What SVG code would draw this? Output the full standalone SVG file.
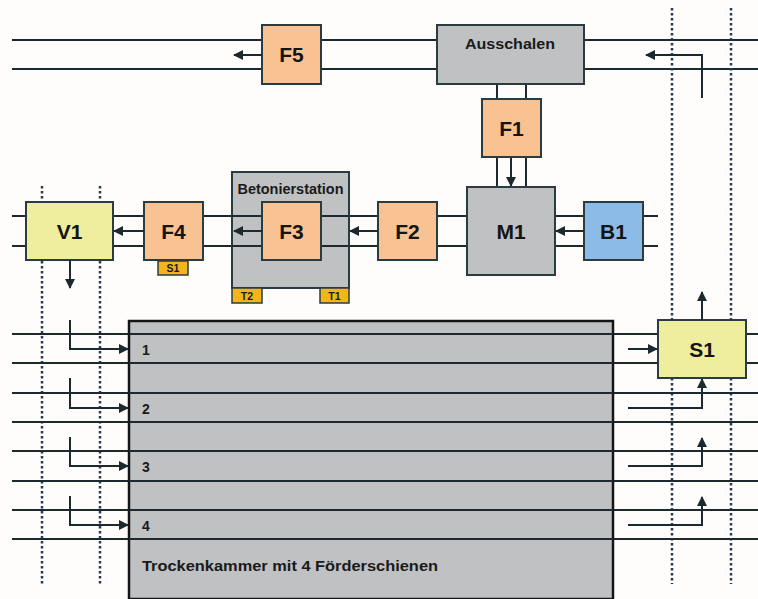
<svg xmlns="http://www.w3.org/2000/svg" width="758" height="599" viewBox="0 0 758 599">
<defs>
<marker id="ah" viewBox="0 0 10 10" refX="9" refY="5" markerWidth="5" markerHeight="5" orient="auto" markerUnits="strokeWidth"><path d="M0,0 L10,5 L0,10 z" fill="#1c2a30"/></marker>
</defs>
<style>
.rail{stroke:#1c2a30;stroke-width:2;fill:none}
.arr{stroke:#1c2a30;stroke-width:2;fill:none;marker-end:url(#ah)}
.dot{stroke:#253a55;stroke-width:2.5;stroke-dasharray:2.5 2.5;fill:none}
.box{stroke:#2a3c40;stroke-width:2}
.peach{fill:#f8c293}
.gray{fill:#bfc1c2}
.yel{fill:#eeee9e}
.blue{fill:#8dbbe8}
.tag{fill:#f2b61c;stroke:#2a3c40;stroke-width:1.5}
.lbl{font-family:"Liberation Sans",Arial,sans-serif;font-weight:bold;font-size:21px;fill:#151515;text-anchor:middle}
.sm{font-family:"Liberation Sans",Arial,sans-serif;font-weight:bold;font-size:14px;fill:#1a1a1a}
.tg{font-family:"Liberation Sans",Arial,sans-serif;font-weight:bold;font-size:10.5px;fill:#1a1a1a;text-anchor:middle}
</style>
<rect width="758" height="599" fill="#fffdfc"/>
<g id="connectors">
<line class="rail" x1="12" y1="40" x2="758" y2="40"/>
<line class="rail" x1="12" y1="69" x2="758" y2="69"/>
<line class="dot" x1="672" y1="8" x2="672" y2="584"/>
<line class="dot" x1="731" y1="8" x2="731" y2="584"/>
<line class="dot" x1="42" y1="186" x2="42" y2="585"/>
<line class="dot" x1="100" y1="186" x2="100" y2="585"/>
<line class="rail" x1="12" y1="216" x2="658" y2="216"/>
<line class="rail" x1="12" y1="246" x2="658" y2="246"/>
<line class="rail" x1="12" y1="334" x2="758" y2="334"/>
<line class="rail" x1="12" y1="363" x2="758" y2="363"/>
<line class="rail" x1="12" y1="393" x2="758" y2="393"/>
<line class="rail" x1="12" y1="422" x2="758" y2="422"/>
<line class="rail" x1="12" y1="451" x2="758" y2="451"/>
<line class="rail" x1="12" y1="481" x2="758" y2="481"/>
<line class="rail" x1="12" y1="510" x2="758" y2="510"/>
<line class="rail" x1="12" y1="539" x2="758" y2="539"/>
<line class="rail" x1="497" y1="84" x2="497" y2="99"/>
<line class="rail" x1="526" y1="84" x2="526" y2="99"/>
<line class="rail" x1="497" y1="157" x2="497" y2="187"/>
<line class="rail" x1="526" y1="157" x2="526" y2="187"/>
<line class="arr" x1="511" y1="157" x2="511" y2="186"/>
</g>
<g id="trockenkammer">
<rect x="129" y="321" width="484" height="278" fill="#bfc1c2" stroke="#151515" stroke-width="2.5"/>
<g class="rail">
<line x1="129" y1="334" x2="613" y2="334"/>
<line x1="129" y1="363" x2="613" y2="363"/>
<line x1="129" y1="393" x2="613" y2="393"/>
<line x1="129" y1="422" x2="613" y2="422"/>
<line x1="129" y1="451" x2="613" y2="451"/>
<line x1="129" y1="481" x2="613" y2="481"/>
<line x1="129" y1="510" x2="613" y2="510"/>
<line x1="129" y1="539" x2="613" y2="539"/>
</g>
<text class="sm" x="142" y="355" font-size="15">1</text>
<text class="sm" x="142" y="414" font-size="15">2</text>
<text class="sm" x="142" y="472" font-size="15">3</text>
<text class="sm" x="142" y="531" font-size="15">4</text>
<text class="sm" x="142" y="571" font-size="16" textLength="296" lengthAdjust="spacingAndGlyphs">Trockenkammer mit 4 Förderschienen</text>
</g>
<g id="betonierstation">
<rect class="box gray" x="232" y="172" width="117" height="116"/>
<line class="rail" x1="232" y1="216" x2="349" y2="216"/>
<line class="rail" x1="232" y1="246" x2="349" y2="246"/>
<text class="sm" x="290.5" y="194" text-anchor="middle" textLength="106" lengthAdjust="spacingAndGlyphs">Betonierstation</text>
<rect class="tag" x="232" y="288" width="30" height="15"/>
<text class="tg" x="247" y="300">T2</text>
<rect class="tag" x="320" y="288" width="29" height="15"/>
<text class="tg" x="334.5" y="300">T1</text>
</g>
<g id="F5"><rect class="box peach" x="262" y="25" width="59" height="59"/><text class="lbl" x="291.5" y="62">F5</text></g>
<g id="ausschalen"><rect class="box gray" x="437" y="25" width="147" height="59"/><text class="sm" x="510" y="49" font-size="15" text-anchor="middle" textLength="90" lengthAdjust="spacingAndGlyphs">Ausschalen</text></g>
<g id="F1"><rect class="box peach" x="482" y="99" width="59" height="58"/><text class="lbl" x="511.5" y="136">F1</text></g>
<g id="M1"><rect class="box gray" x="467" y="187" width="88" height="88"/><text class="lbl" x="511" y="239">M1</text></g>
<g id="F2"><rect class="box peach" x="378" y="202" width="59" height="58"/><text class="lbl" x="407.5" y="239">F2</text></g>
<g id="B1"><rect class="box blue" x="584" y="202" width="59" height="58"/><text class="lbl" x="613.5" y="239">B1</text></g>
<g id="F3"><rect class="box peach" x="262" y="202" width="59" height="58"/><text class="lbl" x="291.5" y="239">F3</text></g>
<g id="F4"><rect class="box peach" x="144" y="202" width="59" height="58"/><text class="lbl" x="173.5" y="239">F4</text>
<rect class="tag" x="158" y="261" width="30" height="14"/><text class="tg" x="173" y="272">S1</text></g>
<g id="V1"><rect class="box yel" x="26" y="202" width="87" height="58"/><text class="lbl" x="69.5" y="239">V1</text></g>
<g id="S1"><rect class="box yel" x="658" y="320" width="88" height="58"/><text class="lbl" x="702" y="357">S1</text></g>
<g id="arrows">
<line class="arr" x1="262" y1="55" x2="234" y2="55"/>
<polyline class="arr" points="702,98 702,55 646,55"/>
<line class="arr" x1="584" y1="231" x2="556" y2="231"/>
<line class="arr" x1="378" y1="231" x2="350" y2="231"/>
<line class="arr" x1="262" y1="231" x2="234" y2="231"/>
<line class="arr" x1="144" y1="231" x2="114" y2="231"/>
<line class="arr" x1="70" y1="260" x2="70" y2="288"/>
<line class="arr" x1="702" y1="320" x2="702" y2="292"/>
<polyline class="arr" points="70,320 70,349 128,349"/>
<polyline class="arr" points="70,378 70,408 128,408"/>
<polyline class="arr" points="70,437 70,466 128,466"/>
<polyline class="arr" points="70,496 70,525 128,525"/>
<line class="arr" x1="628" y1="349" x2="657" y2="349"/>
<polyline class="arr" points="628,408 702,408 702,379"/>
<polyline class="arr" points="628,466 702,466 702,438"/>
<polyline class="arr" points="628,525 702,525 702,497"/>
</g>
</svg>
